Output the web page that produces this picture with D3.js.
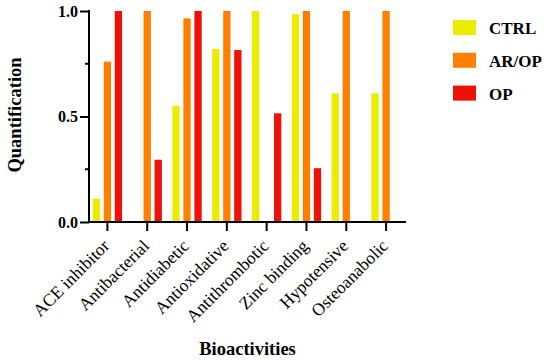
<!DOCTYPE html>
<html lang="en">
<head>
    <meta charset="UTF-8">
    <title>Bioactivities</title>
    <script src="https://cdn.jsdelivr.net/npm/d3@7"></script>
    <style>
        body {
            margin: 0;
            background: white;
        }
    </style>
</head>
<body>
<script>
    const width  = 550;
    const height = 361;

    // Categories on the x axis
    const categories = ["ACE inhibitor", "Antibacterial", "Antidiabetic", "Antioxidative",
                        "Antithrombotic", "Zinc binding", "Hypotensive", "Osteoanabolic"];

    // Series names and values (one per category)
    const series = ["CTRL", "AR/OP", "OP"];
    const ctrl  = [0.11, 0,    0.55, 0.82, 1.0,  0.985, 0.61, 0.61];
    const arop  = [0.76, 1.0,  0.965, 1.0, 0,    1.0,   1.0,  1.0];
    const op    = [1.0,  0.295, 1.0, 0.815, 0.515, 0.255, 0,  0];
    const colors = ["#ecec00", "#ff8000", "#ee1108"];

    const yTicks = [0, 0.5, 1.0];
    const yMinor = [0.25, 0.75];

    const values = [ctrl, arop, op];
    const serif = "'Liberation Serif'";

    const x0 = d3.scaleBand()
                 .domain(categories)
                 .range([87.5, 406]);

    const x1 = d3.scaleBand()
                 .domain(series)
                 .range([0, 29.3])
                 .paddingInner(0.336);

    const y = d3.scaleLinear()
                .domain([0, 1])
                .range([222, 11]);

    const svg = d3.select("body").append("svg")
                  .attr("width", width)
                  .attr("height", height);

    // bars
    series.forEach((s, i) => {
        svg.append("g")
           .selectAll("rect")
           .data(values[i])
           .join("rect")
             .attr("x", (d, j) => x0(categories[j]) + x0.bandwidth() / 2 - 14.65 + x1(s))
             .attr("y", d => y(d))
             .attr("width", x1.bandwidth())
             .attr("height", d => y(0) - y(d))
             .attr("fill", colors[i]);
    });

    // y axis
    const yAxis = svg.append("g")
        .attr("transform", "translate(89,0)")
        .call(d3.axisLeft(y).tickValues(yTicks).tickSize(9).tickSizeOuter(0)
                .tickFormat(d3.format(".1f")));
    yAxis.select(".domain").attr("stroke-width", 2).attr("d", "M0,10V223");
    yAxis.selectAll(".tick line").attr("stroke-width", 2);
    yAxis.selectAll(".tick text")
         .attr("x", -11)
         .attr("fill", "black")
         .style("font-family", serif)
         .style("font-size", "16px")
         .style("font-weight", "bold");

    // minor ticks at 0.25 / 0.75
    svg.append("g")
       .attr("transform", "translate(89,0)")
       .selectAll("line")
       .data(yMinor)
       .join("line")
         .attr("x1", -4).attr("x2", 0)
         .attr("y1", d => y(d)).attr("y2", d => y(d))
         .attr("stroke", "black")
         .attr("stroke-width", 2);

    // x axis
    const xAxis = svg.append("g")
        .attr("transform", "translate(0,222)")
        .call(d3.axisBottom(x0).tickSize(9).tickSizeOuter(0));
    xAxis.select(".domain").attr("stroke-width", 2).attr("d", "M88,0H406");
    xAxis.selectAll(".tick line").attr("stroke-width", 2);
    xAxis.selectAll(".tick text")
         .attr("text-anchor", "end")
         .attr("transform", "translate(3,25) rotate(-45)")
         .attr("y", 0)
         .attr("dy", "0")
         .attr("fill", "black")
         .style("font-family", serif)
         .style("font-size", "17.5px");

    // axis titles
    svg.append("text")
       .attr("x", 247.5)
       .attr("y", 355)
       .attr("text-anchor", "middle")
       .style("font-family", serif)
       .style("font-size", "18.5px")
       .style("font-weight", "bold")
       .text("Bioactivities");

    svg.append("text")
       .attr("transform", "translate(21,115) rotate(-90)")
       .attr("text-anchor", "middle")
       .style("font-family", serif)
       .style("font-size", "18.5px")
       .style("font-weight", "bold")
       .text("Quantification");

    // legend
    const legend = svg.append("g")
        .selectAll("g")
        .data(series)
        .join("g")
          .attr("transform", (d, i) => "translate(453," + (20 + i * 32.8) + ")");

    legend.append("rect")
          .attr("width", 23)
          .attr("height", 15)
          .attr("fill", (d, i) => colors[i]);

    legend.append("text")
          .attr("x", 36)
          .attr("y", 14)
          .style("font-family", serif)
          .style("font-size", "17px")
          .style("font-weight", "bold")
          .text(d => d);
</script>
</body>
</html>
